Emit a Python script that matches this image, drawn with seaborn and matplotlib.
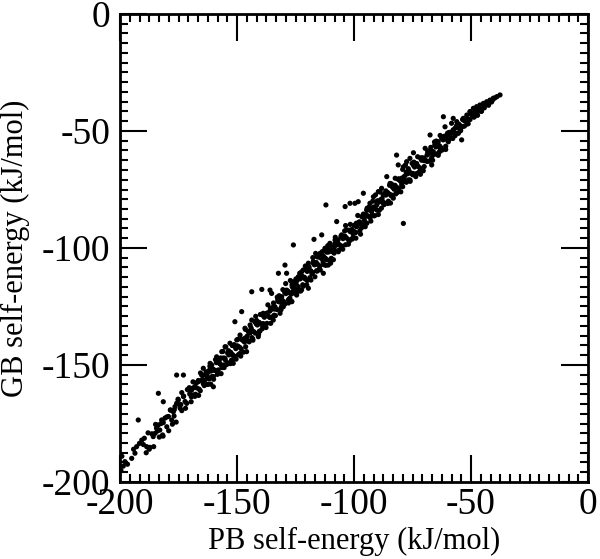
import numpy as np
import pandas as pd
import matplotlib
matplotlib.use("Agg")
import matplotlib.pyplot as plt
import seaborn as sns
from matplotlib.ticker import MultipleLocator, AutoMinorLocator

# --- values (kJ/mol) ---

# low end of the band, PB < -168
pb_tail = [-199.6, -198.6, -197.9, -199.2, -196.8, -195.0, -194.2, -193.6, -192.9, -191.7,
           -190.7, -190.0, -188.6, -187.5, -185.8, -185.0, -184.4, -183.6, -183.0, -182.2,
           -181.5, -180.0, -181.8, -179.3, -177.9, -177.2, -176.5, -175.8, -175.1, -174.3,
           -174.0, -172.9, -172.2, -171.5, -170.8, -170.2, -169.5, -168.9, -178.5, -176.9,
           -173.6]
gb_tail = [-195.0, -193.2, -191.3, -189.0, -192.4, -189.9, -186.0, -187.7, -184.9, -183.5,
           -182.1, -184.0, -184.9, -186.0, -180.6, -179.2, -177.0, -175.6, -177.8, -173.5,
           -174.6, -176.4, -179.9, -172.0, -173.5, -170.0, -167.8, -166.4, -165.0, -168.5,
           -166.9, -163.5, -165.6, -166.4, -160.7, -162.4, -163.6, -159.9, -169.2, -171.8,
           -161.8]

# dense core of the band
pb_core = [-168.0, -167.7, -167.2, -166.5, -166.2, -165.7, -164.9, -164.6, -164.2, -163.4,
           -163.1, -162.7, -161.9, -161.6, -161.1, -160.4, -160.1, -159.6, -158.8, -158.5,
           -158.1, -157.3, -157.0, -156.6, -155.8, -155.5, -155.0, -154.3, -154.0, -153.5,
           -152.7, -152.4, -152.0, -151.2, -150.9, -150.5, -149.7, -149.4, -148.9, -148.2,
           -147.9, -147.4, -146.6, -146.3, -145.9, -145.1, -144.8, -144.4, -143.6, -143.3,
           -142.8, -142.1, -141.8, -141.3, -140.5, -140.2, -139.8, -139.0, -138.7, -138.3,
           -137.5, -137.2, -136.7, -136.0, -135.7, -135.2, -134.4, -134.1, -133.7, -132.9,
           -132.6, -132.2, -131.4, -131.1, -130.6, -129.9, -129.6, -129.1, -128.3, -128.0,
           -127.6, -126.8, -126.5, -126.1, -125.3, -125.0, -124.5, -123.8, -123.5, -123.0,
           -122.2, -121.9, -121.5, -120.7, -120.4, -120.0, -119.2, -118.9, -118.4, -117.7,
           -117.4, -116.9, -116.1, -115.8, -115.4, -114.6, -114.3, -113.9, -113.1, -112.8,
           -112.3, -111.6, -111.3, -110.8, -110.0, -109.7, -109.3, -108.5, -108.2, -107.8,
           -107.0, -106.7, -106.2, -105.5, -105.2, -104.7, -103.9, -103.6, -103.2, -102.4,
           -102.1, -101.6, -100.9, -100.6, -100.1, -99.3, -99.0, -98.6, -97.8, -97.5,
           -97.1, -96.3, -96.0, -95.5, -94.8, -94.5, -94.0, -93.2, -92.9, -92.5,
           -91.7, -91.4, -90.9, -90.2, -89.9, -89.4, -88.6, -88.3, -87.9, -87.1,
           -86.8, -86.4, -85.6, -85.3, -84.8, -84.1, -83.8, -83.3, -82.5, -82.2,
           -81.8, -81.0, -80.7, -80.3, -79.5, -79.2, -78.7, -78.0, -77.7, -77.2,
           -76.4, -76.1, -75.7, -74.9, -74.6, -74.1, -73.4, -73.1, -72.6, -71.8,
           -71.5, -71.1, -70.3, -70.0, -69.6, -68.8, -68.5, -68.0, -67.3, -67.0,
           -66.5, -65.7, -65.4, -65.0, -64.2, -63.9, -63.4, -62.7, -62.4, -61.9,
           -61.1, -60.8, -60.4, -59.6, -59.3, -58.8, -58.1, -57.8, -57.3, -56.5,
           -56.2, -55.8, -55.0, -54.7, -54.3, -53.5, -53.2, -52.7, -52.0, -51.7,
           -51.2, -50.4, -50.1, -49.7, -48.9, -48.6, -48.1, -47.4, -47.1, -46.6,
           -45.8, -45.5, -45.1, -44.3, -44.0, -43.5, -42.8, -42.5, -42.0, -41.2,
           -40.9, -40.5, -39.7, -38.9, -37.6]
gb_core = [-159.2, -162.5, -159.8, -156.6, -160.3, -161.0, -156.8, -154.3, -157.5, -154.2,
           -158.3, -155.0, -156.0, -151.9, -152.6, -151.6, -154.9, -152.2, -149.0, -152.7,
           -153.6, -149.5, -147.0, -150.2, -147.0, -151.1, -147.8, -149.0, -144.9, -145.7,
           -144.6, -148.3, -145.5, -146.2, -142.1, -143.0, -141.9, -145.6, -142.4, -143.1,
           -139.0, -139.6, -138.5, -142.2, -139.2, -139.7, -135.7, -136.3, -135.2, -138.9,
           -135.8, -136.4, -132.4, -132.9, -131.8, -135.5, -132.5, -133.0, -129.0, -129.6,
           -128.5, -132.2, -129.1, -129.7, -125.7, -126.2, -125.0, -128.7, -125.8, -126.3,
           -122.3, -122.9, -121.7, -125.4, -122.4, -123.0, -119.0, -119.5, -118.4, -122.1,
           -119.2, -119.7, -115.7, -116.4, -115.3, -119.0, -115.9, -116.6, -112.6, -113.2,
           -112.0, -115.7, -112.8, -113.3, -109.3, -110.0, -109.0, -112.7, -109.8, -110.5,
           -106.5, -107.2, -106.2, -109.9, -107.1, -107.7, -103.7, -104.5, -103.5, -107.2,
           -104.3, -105.0, -101.0, -101.7, -100.7, -104.4, -101.5, -102.2, -98.2, -98.9,
           -97.9, -101.6, -98.6, -99.3, -95.3, -96.0, -94.9, -98.6, -95.7, -96.4,
           -92.4, -93.0, -92.1, -95.8, -92.8, -93.4, -89.4, -90.0, -88.9, -92.6,
           -89.7, -90.2, -86.2, -86.8, -85.7, -89.4, -86.4, -87.0, -83.0, -83.6,
           -82.5, -86.2, -83.2, -83.8, -79.8, -80.4, -79.3, -83.0, -80.1, -80.7,
           -76.7, -77.4, -76.3, -80.0, -77.0, -77.7, -73.7, -74.3, -73.2, -76.9,
           -74.0, -74.6, -70.6, -71.3, -70.1, -73.8, -70.9, -71.6, -67.6, -68.3,
           -67.2, -70.9, -68.1, -68.7, -64.7, -65.4, -64.4, -68.1, -65.1, -65.8,
           -61.8, -62.5, -61.5, -65.2, -62.3, -63.0, -59.0, -59.6, -58.6, -62.3,
           -59.4, -60.0, -56.0, -56.8, -55.7, -59.4, -56.4, -57.2, -53.2, -53.8,
           -52.8, -56.5, -53.6, -54.0, -50.6, -51.2, -50.3, -53.2, -50.7, -51.0,
           -47.9, -48.5, -47.5, -50.0, -47.9, -48.1, -45.3, -45.6, -44.9, -47.0,
           -45.0, -45.1, -42.8, -43.0, -42.3, -44.0, -42.5, -42.6, -40.9, -40.7,
           -40.1, -41.5, -40.1, -40.1, -38.9, -38.5, -38.0, -39.0, -37.7, -37.6,
           -36.8, -36.4, -35.8, -35.3, -34.6]

# second pass over the band, wider spread
pb_fill = [-189.6, -188.8, -188.0, -187.2, -186.4, -185.6, -184.8, -184.0, -183.2, -182.4,
           -181.6, -180.8, -180.0, -179.2, -178.4, -177.6, -176.8, -176.0, -175.2, -174.4,
           -173.6, -172.8, -172.0, -171.2, -170.4, -169.6, -168.8, -168.0, -167.2, -166.4,
           -165.6, -164.8, -164.0, -163.2, -162.4, -161.6, -160.8, -160.0, -159.2, -158.4,
           -157.6, -156.8, -156.0, -155.2, -154.4, -153.6, -152.8, -152.0, -151.2, -150.4,
           -149.6, -148.8, -148.0, -147.2, -146.4, -145.6, -144.8, -144.0, -143.2, -142.4,
           -141.6, -140.8, -140.0, -139.2, -138.4, -137.6, -136.8, -136.0, -135.2, -134.4,
           -133.6, -132.8, -132.0, -131.2, -130.4, -129.6, -128.8, -128.0, -127.2, -126.4,
           -125.6, -124.8, -124.0, -123.2, -122.4, -121.6, -120.8, -120.0, -119.2, -118.4,
           -117.6, -116.8, -116.0, -115.2, -114.4, -113.6, -112.8, -112.0, -111.2, -110.4,
           -109.6, -108.8, -108.0, -107.2, -106.4, -105.6, -104.8, -104.0, -103.2, -102.4,
           -101.6, -100.8, -100.0, -99.2, -98.4, -97.6, -96.8, -96.0, -95.2, -94.4,
           -93.6, -92.8, -92.0, -91.2, -90.4, -89.6, -88.8, -88.0, -87.2, -86.4,
           -85.6, -84.8, -84.0, -83.2, -82.4, -81.6, -80.8, -80.0, -79.2, -78.4,
           -77.6, -76.8, -76.0, -75.2, -74.4, -73.6, -72.8, -72.0, -71.2, -70.4,
           -69.6, -68.8, -68.0, -67.2, -66.4, -65.6, -64.8, -64.0, -63.2, -62.4,
           -61.6, -60.8, -60.0, -59.2, -58.4, -57.6, -56.8, -56.0, -55.2, -54.4,
           -53.6, -52.8, -52.0, -51.2, -50.4, -49.6, -48.8, -48.0, -47.2, -46.4,
           -45.6, -44.8,
           -164.4, -162.8, -161.2, -159.6, -158.0, -156.4, -154.8, -153.2, -151.6, -150.0,
           -148.4, -146.8, -145.2, -143.6, -142.0, -140.4, -138.8, -137.2, -135.6, -134.0,
           -132.4, -130.8, -129.2, -127.6, -126.0, -124.4, -122.8, -121.2, -119.6, -118.0,
           -116.4, -114.8, -113.2, -111.6, -110.0, -108.4, -106.8, -105.2, -103.6, -102.0,
           -100.4, -98.8, -97.2, -95.6, -94.0, -92.4, -90.8, -89.2, -87.6, -86.0,
           -84.4, -82.8, -81.2, -79.6, -78.0, -76.4, -74.8, -73.2, -71.6, -70.0,
           -68.4, -66.8, -65.2, -63.6]
gb_fill = [-181.3, -187.5, -179.0, -185.2, -179.4, -184.9, -175.4, -178.2, -180.8, -175.0,
           -180.4, -172.7, -172.2, -178.1, -169.3, -175.3, -169.1, -174.4, -164.6, -167.1,
           -169.5, -163.3, -168.5, -160.5, -159.7, -165.7, -157.2, -163.4, -157.5, -163.0,
           -153.4, -156.2, -158.8, -152.9, -158.3, -150.5, -150.0, -156.1, -147.7, -154.0,
           -148.1, -153.7, -144.2, -147.1, -149.8, -143.9, -149.4, -141.7, -141.3, -147.5,
           -139.0, -145.1, -139.1, -144.5, -134.8, -137.6, -140.1, -134.1, -139.4, -131.5,
           -131.0, -137.0, -128.4, -134.5, -128.5, -134.0, -124.3, -127.0, -129.5, -123.5,
           -128.9, -121.0, -120.4, -126.4, -117.8, -124.0, -118.0, -123.5, -113.9, -116.6,
           -119.2, -113.2, -118.6, -110.8, -110.2, -116.3, -107.7, -113.9, -108.1, -113.7,
           -104.1, -107.0, -109.7, -103.9, -109.4, -101.6, -101.2, -107.4, -99.0, -105.3,
           -99.4, -105.0, -95.4, -98.2, -100.9, -95.0, -100.5, -92.7, -92.2, -98.4,
           -89.9, -96.2, -90.3, -95.8, -86.1, -88.9, -91.4, -85.5, -90.9, -83.0,
           -82.5, -88.5, -80.0, -86.2, -80.2, -85.7, -76.1, -78.9, -81.5, -75.6,
           -81.0, -73.2, -72.6, -78.7, -70.2, -76.4, -70.5, -76.0, -66.4, -69.3,
           -71.9, -66.1, -71.5, -63.8, -63.3, -69.5, -61.0, -67.3, -61.4, -67.0,
           -57.4, -60.3, -62.9, -57.0, -62.5, -54.7, -54.3, -60.4, -51.9, -58.2,
           -52.3, -57.9, -50.9, -51.9, -52.9, -49.5, -52.0, -47.6, -47.1, -49.8,
           -45.1, -47.9, -44.5, -46.9, -41.8, -42.9, -44.0, -40.8, -43.3, -40.1,
           -41.6, -39.1,
           -158.0, -153.7, -158.2, -152.3, -148.2, -151.1, -142.3, -149.1, -146.0, -141.9,
           -146.2, -140.2, -135.7, -138.3, -129.2, -135.6, -132.3, -127.8, -132.2, -126.1,
           -121.6, -124.2, -115.2, -121.7, -118.4, -114.0, -118.4, -112.5, -108.1, -111.0,
           -102.3, -109.0, -106.0, -101.8, -106.5, -100.7, -96.5, -99.2, -90.4, -97.1,
           -94.0, -89.6, -94.1, -88.1, -83.7, -86.3, -77.3, -83.9, -80.7, -76.4,
           -80.8, -74.9, -70.6, -73.3, -64.5, -71.2, -68.1, -63.9, -68.5, -62.7,
           -58.5, -61.3, -54.5, -59.1]

# looser points along the edges of the band
pb_edge = [-169.4, -166.5, -168.7, -165.1, -164.4, -163.7, -162.3, -161.5, -160.8, -160.1,
           -158.7, -158.0, -156.5, -155.9, -155.1, -153.0, -152.3, -151.6, -150.1, -148.7,
           -146.6, -145.9, -144.4, -143.7, -140.9, -138.8,
           -134.5, -133.8, -132.3, -131.6, -130.9, -130.2, -128.1, -127.4, -126.6, -125.9,
           -125.2, -124.5, -123.8, -122.4, -121.7, -120.2, -119.5, -117.4, -116.7, -115.9,
           -114.5, -113.1, -112.4, -111.0, -110.3, -108.1, -105.3,
           -101.0, -98.9, -96.7, -95.3, -94.6, -93.2, -92.5, -91.7, -90.3, -89.6,
           -88.2, -87.5, -86.0, -84.6, -83.9, -82.5, -81.1, -79.6, -78.9, -77.5,
           -76.8, -76.1, -73.9,
           -66.8, -66.1, -65.4, -64.0, -63.2, -62.5, -61.1, -60.4, -59.7, -58.3,
           -56.8, -56.1, -55.4, -53.3, -51.8, -50.4, -49.0, -47.6, -46.2, -44.7,
           -43.3, -41.9, -40.5]
gb_edge = [-160.7, -157.1, -162.8, -154.3, -151.4, -156.4, -152.9, -149.3, -155.0, -159.3,
           -146.5, -152.1, -144.3, -150.0, -142.2, -140.7, -147.9, -149.3, -139.3, -137.2,
           -134.3, -144.3, -132.9, -130.8, -137.9, -127.9,
           -130.8, -125.1, -122.9, -127.9, -120.8, -125.1, -118.7, -121.5, -122.9, -114.4,
           -117.2, -120.1, -112.3, -117.9, -109.4, -115.8, -106.5, -105.8, -112.3, -103.7,
           -102.3, -110.8, -100.1, -107.3, -98.0, -96.6, -94.4,
           -92.3, -90.9, -86.6, -89.5, -83.8, -80.9, -84.5, -78.1, -81.6, -75.9,
           -74.5, -77.4, -69.5, -72.4, -77.4, -73.8, -64.5, -72.4, -65.3, -63.1,
           -70.9, -61.7, -63.8,
           -64.5, -58.8, -56.0, -54.6, -57.4, -53.1, -48.2, -51.7, -54.6, -46.7,
           -48.8, -46.0, -51.0, -44.6, -43.2, -41.7, -40.3, -39.6, -38.9, -38.2,
           -37.5, -36.8, -36.0]

# stray points away from the band
pb_stray = [-192.2, -183.6, -181.5, -175.8, -172.9, -150.9, -148.0, -143.7, -139.4, -135.9,
            -135.2, -132.3, -128.8, -129.5, -125.9, -117.1, -113.8, -112.0, -119.5, -126.6,
            -107.4, -103.8, -101.7, -99.6, -98.2, -96.0, -81.8, -78.9, -67.5, -61.8,
            -57.6, -54.0, -74.6]
gb_stray = [-173.5, -162.1, -165.7, -154.3, -154.3, -131.5, -127.2, -118.7, -117.7, -118.0,
            -119.4, -110.8, -110.8, -107.3, -98.7, -96.3, -94.4, -81.6, -117.2, -122.9,
            -88.7, -82.3, -80.9, -80.9, -80.2, -76.6, -60.3, -89.5, -51.7, -43.9,
            -44.6, -53.8, -59.3]

df = pd.DataFrame({
    "pb": pb_tail + pb_core + pb_fill + pb_edge + pb_stray,
    "gb": gb_tail + gb_core + gb_fill + gb_edge + gb_stray,
})

# --- plot ---
sns.set_style("ticks")
plt.rcParams["font.family"] = ["Liberation Serif", "DejaVu Serif"]
plt.rcParams["axes.unicode_minus"] = False
plt.rcParams["text.color"] = "black"
plt.rcParams["axes.labelcolor"] = "black"

fig = plt.figure(figsize=(6.0, 5.59), dpi=100)
ax = fig.add_axes([0.2, 1 - 482 / 559, 468 / 600, 468 / 559])

sns.scatterplot(data=df, x="pb", y="gb", ax=ax, color="black", s=14,
                linewidth=0, edgecolor="none", legend=False)

ax.set_xlim(-200, 0)
ax.set_ylim(-200, 0)
for axis in (ax.xaxis, ax.yaxis):
    axis.set_major_locator(MultipleLocator(50))
    axis.set_minor_locator(AutoMinorLocator(12))

ax.tick_params(which="both", direction="in", top=True, right=True, width=1.5,
               colors="black", labelcolor="black")
ax.tick_params(which="major", length=19.5, labelsize=27)
ax.tick_params(which="minor", length=6)
ax.tick_params(axis="x", which="major", pad=4)
ax.tick_params(axis="y", which="major", pad=7)
for sp in ax.spines.values():
    sp.set_linewidth(2)
    sp.set_color("black")

ax.set_xlabel("PB self-energy (kJ/mol)", fontsize=22, va="center", color="black")
ax.set_ylabel("GB self-energy (kJ/mol)", fontsize=22, va="center", color="black")
ax.xaxis.set_label_coords(0.5, -0.128)
ax.yaxis.set_label_coords(-0.224, 0.5)

fig.savefig("out.png", dpi=100)
